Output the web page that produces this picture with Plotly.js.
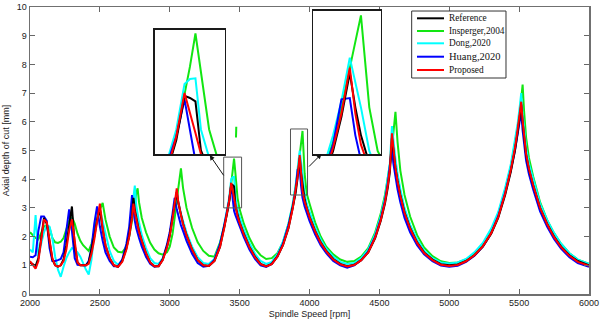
<!DOCTYPE html>
<html><head><meta charset="utf-8">
<script src="https://cdn.plot.ly/plotly-3.0.1.min.js"></script>
<style>html,body{margin:0;padding:0;background:#fff}#chart{width:601px;height:322px}</style>
</head><body><div id="chart"></div>
<script>
// Spindle speed grid [rpm]
const speed = [
  2000,2020,2040,2060,2080,2100,2120,2140,2160,2180,2200,2220,2240,2260,2280,2300,2320,2340,2360,2380,2400,2420,2440,2460,2480,2500,2520,
  2540,2570,2600,2630,2660,2690,2710,2730,2740,2750,2760,2770,2780,
  2800,2830,2860,2890,2920,2950,2980,3000,3020,3035,3050,3060,3070,3080,3095,
  3120,3160,3200,3240,3280,3320,3360,3390,3410,3425,3440,3450,3460,3470,3485,3500,
  3530,3570,3610,3650,3690,3730,3770,3810,3850,3880,3900,3915,3930,3940,3950,3965,3980,
  4000,4040,4080,4120,4170,4220,4270,4320,4370,4420,4470,4510,4540,4560,4575,4590,4600,4615,4630,4650,
  4680,4720,4770,4820,4880,4940,5000,5060,5120,5180,5240,5300,5350,5400,5440,5470,5490,5505,5515,5525,5535,5550,5570,
  5600,5650,5700,5750,5800,5860,5920,6000
];
// Axial depth of cut [mm]
const reference = [
  1.10,1.02,0.97,1.25,2.00,2.65,2.45,1.75,1.20,1.00,0.95,1.00,1.20,1.70,2.45,3.05,1.70,1.10,1.00,1.00,1.00,1.10,1.50,2.00,2.60,2.95,2.25,
  1.70,1.25,1.00,0.95,1.15,1.60,2.05,2.75,3.35,2.95,2.65,2.40,2.20,
  1.85,1.42,1.10,0.97,0.97,1.20,1.65,2.05,2.65,3.10,3.55,3.20,2.95,2.75,2.45,
  2.05,1.55,1.18,1.00,0.98,1.15,1.65,2.30,2.80,3.20,3.83,3.80,3.75,3.05,2.75,2.50,
  2.10,1.65,1.30,1.05,0.97,1.05,1.30,1.70,2.30,2.95,3.50,4.05,4.75,4.20,3.75,3.30,3.00,
  2.70,2.20,1.80,1.50,1.22,1.05,0.97,1.02,1.18,1.45,1.95,2.55,3.15,3.70,4.25,5.45,4.95,4.40,3.95,3.45,
  2.85,2.30,1.80,1.45,1.20,1.04,1.00,1.03,1.15,1.35,1.65,2.10,2.65,3.45,4.25,5.00,5.65,6.15,6.60,6.00,5.45,4.85,4.35,
  3.80,3.00,2.45,2.00,1.65,1.35,1.15,1.00
];
const insperger = [
  2.15,2.05,1.95,1.90,2.15,2.35,2.40,2.30,1.95,1.80,1.78,1.82,1.95,2.25,2.55,2.68,2.45,2.10,1.85,1.70,1.60,1.50,1.75,2.15,2.60,2.95,3.17,
  2.60,2.00,1.62,1.47,1.45,1.65,2.00,2.55,2.90,3.20,3.50,3.68,3.20,
  2.65,2.15,1.78,1.55,1.42,1.37,1.45,1.65,2.10,2.60,3.20,3.65,4.10,4.38,3.70,
  3.00,2.30,1.80,1.50,1.33,1.30,1.80,2.35,2.80,3.25,3.85,4.25,4.72,4.20,3.35,2.95,
  2.45,1.95,1.58,1.35,1.22,1.25,1.42,1.80,2.45,3.10,3.65,4.20,4.85,5.30,5.68,4.20,3.50,
  3.15,2.50,2.00,1.65,1.38,1.20,1.12,1.15,1.30,1.60,2.15,2.80,3.45,4.00,4.50,5.10,5.60,6.35,5.30,4.30,
  3.45,2.70,2.05,1.62,1.32,1.14,1.08,1.10,1.20,1.40,1.72,2.20,2.78,3.62,4.42,5.18,5.82,6.32,6.80,7.30,6.40,5.45,4.75,
  4.10,3.20,2.58,2.12,1.75,1.42,1.20,1.05
];
const dong = [
  1.55,1.45,2.75,1.30,1.75,2.15,2.40,2.35,1.95,1.30,0.85,0.60,0.95,1.25,1.45,1.60,1.55,1.45,1.30,1.05,0.85,0.68,1.20,2.10,2.75,2.95,2.55,
  2.05,1.50,1.15,1.02,1.18,1.65,2.15,2.90,3.40,3.78,3.10,2.75,2.50,
  2.05,1.60,1.25,1.08,1.05,1.25,1.65,2.05,2.65,3.10,3.55,3.25,3.00,2.80,2.55,
  2.15,1.65,1.28,1.08,1.05,1.22,1.75,2.42,2.95,3.35,4.00,4.07,4.08,3.35,2.95,2.68,
  2.25,1.78,1.40,1.15,1.05,1.12,1.38,1.82,2.45,3.15,3.75,4.30,5.00,4.60,4.20,3.50,3.15,
  2.85,2.32,1.90,1.58,1.30,1.12,1.05,1.08,1.25,1.55,2.08,2.72,3.35,3.95,4.55,5.85,5.30,4.70,4.20,3.65,
  3.00,2.42,1.90,1.52,1.25,1.10,1.06,1.10,1.22,1.45,1.78,2.28,2.85,3.70,4.50,5.30,5.95,6.55,7.00,6.30,5.70,5.10,4.55,
  4.00,3.15,2.58,2.12,1.75,1.42,1.20,1.05
];
const huang = [
  1.30,1.28,1.35,2.20,2.70,2.70,2.55,1.60,1.15,1.15,1.18,1.22,1.45,2.15,2.95,2.20,1.25,1.02,1.00,1.00,1.00,1.15,1.60,2.45,3.05,2.35,1.85,
  1.45,1.15,0.97,0.97,1.20,1.75,2.35,3.45,2.95,2.55,2.30,2.10,1.95,
  1.65,1.30,1.05,0.95,0.98,1.22,1.72,2.15,2.80,3.35,2.95,2.75,2.55,2.40,2.20,
  1.85,1.40,1.08,0.95,0.98,1.20,1.75,2.40,2.90,3.25,3.78,3.30,2.90,2.75,2.55,2.35,
  1.98,1.55,1.22,1.00,0.94,1.05,1.32,1.75,2.40,3.05,3.60,4.33,4.35,3.75,3.35,3.05,2.80,
  2.55,2.08,1.70,1.42,1.15,1.00,0.92,1.00,1.18,1.48,2.00,2.62,3.25,3.85,4.55,5.10,4.55,4.05,3.65,3.20,
  2.65,2.15,1.70,1.38,1.14,0.99,0.95,0.98,1.12,1.33,1.65,2.12,2.70,3.52,4.30,5.00,5.55,6.00,6.35,5.70,5.20,4.65,4.18,
  3.65,2.88,2.35,1.92,1.58,1.28,1.08,0.95
];
const proposed = [
  1.15,1.00,0.88,1.15,1.90,2.60,2.50,1.85,1.25,1.00,0.95,1.00,1.15,1.55,2.20,2.60,1.75,1.10,1.00,1.00,1.00,1.05,1.40,1.90,2.50,3.15,2.30,
  1.70,1.25,1.00,0.95,1.12,1.55,2.00,2.65,3.15,2.85,2.60,2.38,2.18,
  1.85,1.42,1.10,0.97,0.97,1.18,1.62,2.02,2.62,3.10,3.68,3.25,2.98,2.75,2.45,
  2.05,1.55,1.18,1.00,0.98,1.15,1.65,2.30,2.82,3.25,3.87,3.60,3.30,3.00,2.72,2.48,
  2.08,1.63,1.28,1.04,0.96,1.04,1.30,1.70,2.32,2.98,3.55,4.10,4.84,4.10,3.60,3.22,2.95,
  2.68,2.18,1.78,1.48,1.20,1.03,0.96,1.01,1.18,1.45,1.97,2.58,3.20,3.78,4.35,5.60,5.00,4.40,3.92,3.42,
  2.82,2.28,1.78,1.43,1.18,1.02,0.98,1.01,1.14,1.35,1.66,2.12,2.68,3.50,4.32,5.08,5.75,6.25,6.70,6.05,5.48,4.88,4.37,
  3.80,3.00,2.44,1.98,1.63,1.33,1.12,0.98
];
// isolated green fragment above the 3450 rpm lobe
const inspergerFragmentSpeed = [3474, 3476];
const inspergerFragmentDepth = [5.45, 5.83];

const seriesNames = ['Reference', 'Insperger,2004', 'Dong,2020', 'Huang,2020', 'Proposed'];
const xTickValues = [2000, 2500, 3000, 3500, 4000, 4500, 5000, 5500, 6000];
const yTickValues = [0, 1, 2, 3, 4, 5, 6, 7, 8, 9, 10];
// zoom windows: [speedMin, speedMax, depthMin, depthMax]
const zoomWindow1 = [3386, 3514, 3.0, 4.77];
const zoomWindow2 = [3864, 3986, 3.45, 5.75];

const series = {
  'Reference': {y: reference, color: '#000000'},
  'Insperger,2004': {y: insperger, color: '#12e612'},
  'Dong,2020': {y: dong, color: '#00ffff'},
  'Huang,2020': {y: huang, color: '#0000ff'},
  'Proposed': {y: proposed, color: '#ff0000'}
};
const drawOrder = ['Insperger,2004', 'Dong,2020', 'Huang,2020', 'Reference', 'Proposed'];

const traces = [];
[['x','y'], ['x2','y2'], ['x3','y3']].forEach(function(ax){
  drawOrder.forEach(function(name){
    traces.push({type:'scatter', mode:'lines', name:name, x:speed, y:series[name].y,
      xaxis:ax[0], yaxis:ax[1], line:{color:series[name].color, width:2}, hoverinfo:'skip'});
  });
});
traces.push({type:'scatter', mode:'lines', name:'Insperger,2004', x:inspergerFragmentSpeed, y:inspergerFragmentDepth,
  line:{color:'#12e612', width:2}, hoverinfo:'skip'});

const axisStyle = {showgrid:false, zeroline:false, ticks:'inside', ticklen:5, tickcolor:'#666',
  showline:true, linecolor:'#707070', linewidth:1.5, mirror:'ticks', tickfont:{size:9, color:'#222'}};
const insetStyle = {showgrid:false, zeroline:false, showticklabels:false, ticks:'',
  showline:true, mirror:true, linecolor:'#1a1a1a', linewidth:1.5, fixedrange:true};

const shapes = [
  {type:'rect', xref:'x', yref:'y', x0:zoomWindow1[0], x1:zoomWindow1[1], y0:zoomWindow1[2], y1:zoomWindow1[3], line:{color:'#555', width:1}},
  {type:'rect', xref:'x', yref:'y', x0:zoomWindow2[0], x1:zoomWindow2[1], y0:zoomWindow2[2], y1:zoomWindow2[3], line:{color:'#555', width:1}},
  {type:'rect', xref:'paper', yref:'paper', x0:0.6828, x1:0.8515, y0:0.7526, y1:0.986, line:{color:'#333', width:1}, fillcolor:'#fff', layer:'above'}
];
const annotations = [
  {xref:'x', yref:'y', x:3286, y:4.84, axref:'x', ayref:'y', ax:3393, ay:4.08, text:'', showarrow:true, arrowhead:2, arrowsize:1, arrowwidth:1, arrowcolor:'#111'},
  {xref:'x', yref:'y', x:4086, y:4.88, axref:'x', ayref:'y', ax:3986, ay:4.39, text:'', showarrow:true, arrowhead:2, arrowsize:1, arrowwidth:1, arrowcolor:'#111'}
];
const legendRows = [0.9606, 0.9164, 0.8735, 0.8268, 0.7805];
seriesNames.forEach(function(name, i){
  shapes.push({type:'line', xref:'paper', yref:'paper', x0:0.6923, x1:0.7406, y0:legendRows[i], y1:legendRows[i],
    line:{color:series[name].color, width:2}, layer:'above'});
  annotations.push({xref:'paper', yref:'paper', x:0.746, y:legendRows[i], xanchor:'left', yanchor:'middle',
    text:name, showarrow:false, font:{family:'Liberation Serif, Times New Roman, serif', size:(name==='Huang,2020'?10.5:9.3), color:'#111'}});
});

const layout = {
  width:601, height:322, margin:{l:30, r:12, t:7, b:28},
  paper_bgcolor:'#ffffff', plot_bgcolor:'#ffffff', showlegend:false,
  font:{family:'Liberation Sans, Arial, sans-serif', size:9, color:'#222'},
  xaxis:Object.assign({}, axisStyle, {range:[2000,6000], tickvals:xTickValues, domain:[0,1],
    title:{text:'Spindle Speed [rpm]', font:{size:9, color:'#222'}, standoff:3}}),
  yaxis:Object.assign({}, axisStyle, {range:[0,10], tickvals:yTickValues, domain:[0,1],
    title:{text:'Axial depth of cut [mm]', font:{size:9, color:'#222'}, standoff:5}}),
  xaxis2:Object.assign({}, insetStyle, {domain:[0.2236,0.3488], anchor:'y2', range:[zoomWindow1[0], zoomWindow1[1]]}),
  yaxis2:Object.assign({}, insetStyle, {domain:[0.4878,0.9199], anchor:'x2', range:[zoomWindow1[2], zoomWindow1[3]]}),
  xaxis3:Object.assign({}, insetStyle, {domain:[0.5063,0.6279], anchor:'y3', range:[zoomWindow2[0], zoomWindow2[1]]}),
  yaxis3:Object.assign({}, insetStyle, {domain:[0.4878,0.9861], anchor:'x3', range:[zoomWindow2[2], zoomWindow2[3]]}),
  shapes:shapes, annotations:annotations
};
Plotly.newPlot('chart', traces, layout, {displayModeBar:false, staticPlot:true});
</script>
</body></html>
